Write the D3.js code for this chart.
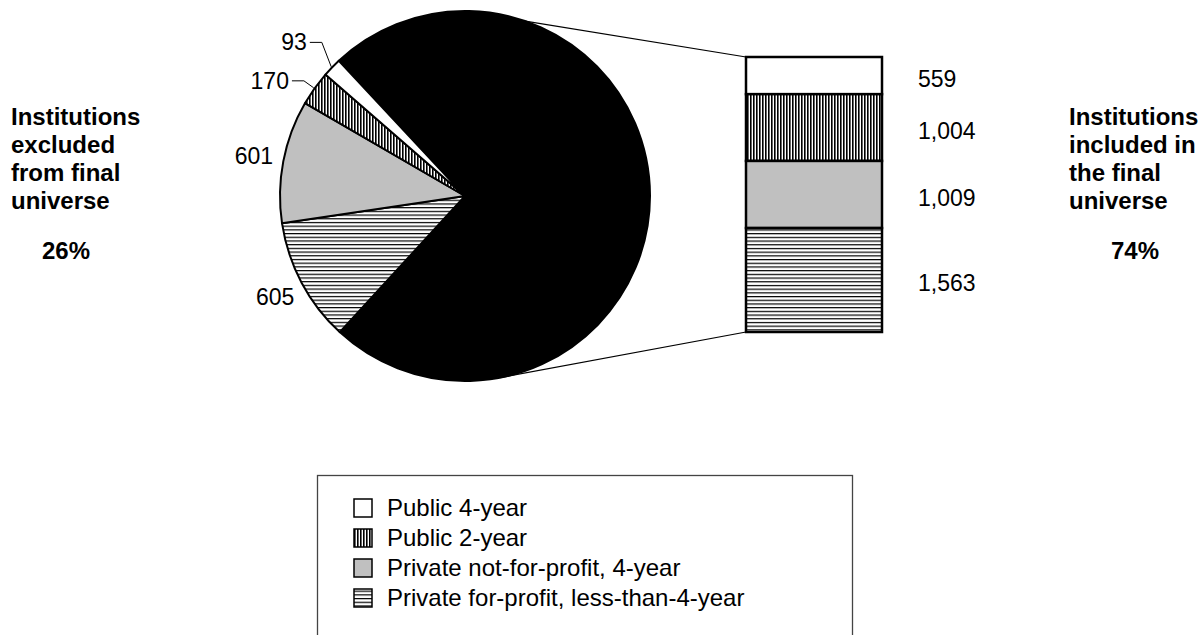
<!DOCTYPE html>
<html>
<head>
<meta charset="utf-8">
<script src="https://cdn.jsdelivr.net/npm/d3@7"></script>
<style>
  html, body { margin: 0; padding: 0; background: #fff; }
  svg { display: block; font-family: "Liberation Sans", Arial, Helvetica, sans-serif; }
</style>
</head>
<body>
<svg id="chart" width="1204" height="635"></svg>
<script>
// ---- data ----
const categories = ["Public 4-year", "Public 2-year", "Private not-for-profit, 4-year", "Private for-profit, less-than-4-year"];
const excludedValues = [93, 170, 601, 605];
const includedValues = [559, 1004, 1009, 1563];
const excludedTitle = ["Institutions", "excluded", "from final", "universe"];
const includedTitle = ["Institutions", "included in", "the final", "universe"];

// ---- styles ----
const fills = ["#ffffff", "url(#vhatch)", "#c0c0c0", "url(#hhatch)"];
const svg = d3.select("#chart");
const defs = svg.append("defs");
const vp = defs.append("pattern").attr("id", "vhatch").attr("patternUnits", "userSpaceOnUse").attr("width", 3).attr("height", 3);
vp.append("rect").attr("width", 3).attr("height", 3).attr("fill", "#fff");
vp.append("rect").attr("width", 1.6).attr("height", 3).attr("fill", "#000");
const hp = defs.append("pattern").attr("id", "hhatch").attr("patternUnits", "userSpaceOnUse").attr("width", 4).attr("height", 3.7);
hp.append("rect").attr("width", 4).attr("height", 3.7).attr("fill", "#fff");
hp.append("rect").attr("width", 4).attr("height", 1.2).attr("fill", "#000");

const totalIncluded = d3.sum(includedValues);
const totalExcluded = d3.sum(excludedValues);
const total = totalIncluded + totalExcluded;
const pct = d3.format(".0%");
const num = d3.format(",");

// ---- pie ----
const cx = 465, cy = 196, r = 185;
const deg = Math.PI / 180;
const pieData = [{ key: "included", value: totalIncluded, fill: "#000" }];
for (let i = excludedValues.length - 1; i >= 0; i--) {
  pieData.push({ key: categories[i], idx: i, value: excludedValues[i], fill: fills[i] });
}
const start = -43 * deg;
const pie = d3.pie().sort(null).value(d => d.value).startAngle(start).endAngle(start + 2 * Math.PI);
const arcs = pie(pieData);
const arc = d3.arc().innerRadius(0).outerRadius(r);
const g = svg.append("g").attr("transform", `translate(${cx},${cy})`);
g.selectAll("path.slice").data(arcs).join("path")
  .attr("class", "slice")
  .attr("d", arc)
  .attr("fill", d => d.data.fill)
  .attr("stroke", "#000")
  .attr("stroke-width", 2)
  .attr("stroke-linejoin", "round");

const polar = (a, rad) => [Math.sin(a) * rad, -Math.cos(a) * rad];

// labels for excluded slices
const leaderR = { 0: 210, 1: 198 };
arcs.filter(d => d.data.key !== "included").forEach(d => {
  const i = d.data.idx;
  const mid = (d.startAngle + d.endAngle) / 2;
  if (leaderR[i] !== undefined) {
    const p0 = polar(mid, r + 1);
    const p1 = polar(mid + (i === 0 ? 3 * deg : 0), leaderR[i]);
    const p2 = [p1[0] - 12, p1[1]];
    g.append("polyline")
      .attr("points", [p0, p1, p2].map(p => p.join(",")).join(" "))
      .attr("fill", "none").attr("stroke", "#000").attr("stroke-width", 1);
    g.append("text").attr("x", p2[0] - 3).attr("y", p2[1]).attr("dy", "0.35em")
      .attr("text-anchor", "end").attr("font-size", 23).text(num(d.data.value));
  } else {
    const p = polar(mid, r + 30);
    g.append("text").attr("x", p[0]).attr("y", p[1]).attr("dy", "0.35em")
      .attr("text-anchor", "middle").attr("font-size", 23).text(num(d.data.value));
  }
});

// ---- stacked bar ----
const barX = 746, barW = 136, barTop = 57, barBottom = 332;
const y = d3.scaleLinear().domain([0, totalIncluded]).range([barTop, barBottom]);
const cum = [0, ...d3.cumsum(includedValues)];
const segs = includedValues.map((v, i) => ({ v, i, y0: cum[i], y1: cum[i + 1] }));
svg.selectAll("rect.seg").data(segs).join("rect")
  .attr("class", "seg")
  .attr("x", barX).attr("width", barW)
  .attr("y", d => y(d.y0)).attr("height", d => y(d.y1) - y(d.y0))
  .attr("fill", d => fills[d.i])
  .attr("stroke", "#000").attr("stroke-width", 2.5);
svg.selectAll("text.seglab").data(segs).join("text")
  .attr("class", "seglab")
  .attr("x", 918).attr("y", d => (y(d.y0) + y(d.y1)) / 2 + 3)
  .attr("dy", "0.35em").attr("font-size", 23)
  .text(d => num(d.v));

// connector lines
const upA = 19 * deg, loA = 169 * deg;
const up = polar(upA, r), lo = polar(loA, r);
svg.append("line").attr("x1", cx + up[0]).attr("y1", cy + up[1]).attr("x2", barX).attr("y2", y(0))
  .attr("stroke", "#000").attr("stroke-width", 1.2);
svg.append("line").attr("x1", cx + lo[0]).attr("y1", cy + lo[1]).attr("x2", barX).attr("y2", y(totalIncluded))
  .attr("stroke", "#000").attr("stroke-width", 1.2);

// ---- side titles ----
function sideTitle(lines, x, pctText, px) {
  const t = svg.append("g").attr("font-weight", "bold").attr("font-size", 24);
  lines.forEach((s, k) => {
    t.append("text").attr("x", x).attr("y", 117 + k * 28).attr("dy", "0.35em").text(s);
  });
  t.append("text").attr("x", px).attr("y", 251).attr("dy", "0.35em").text(pctText);
}
sideTitle(excludedTitle, 11, pct(totalExcluded / total), 42);
sideTitle(includedTitle, 1069, pct(totalIncluded / total), 1111);

// ---- legend ----
svg.append("rect").attr("x", 317.5).attr("y", 475.5).attr("width", 535).attr("height", 200)
  .attr("fill", "none").attr("stroke", "#444").attr("stroke-width", 1.3);
const lg = svg.selectAll("g.li").data(categories).join("g").attr("class", "li")
  .attr("transform", (d, i) => `translate(354,${508 + i * 30})`);
lg.append("rect").attr("x", 0).attr("y", -9).attr("width", 18).attr("height", 18)
  .attr("fill", (d, i) => fills[i]).attr("stroke", "#000").attr("stroke-width", 1.5);
lg.append("text").attr("x", 33).attr("y", 0).attr("dy", "0.35em").attr("font-size", 24).text(d => d);
</script>
</body>
</html>
